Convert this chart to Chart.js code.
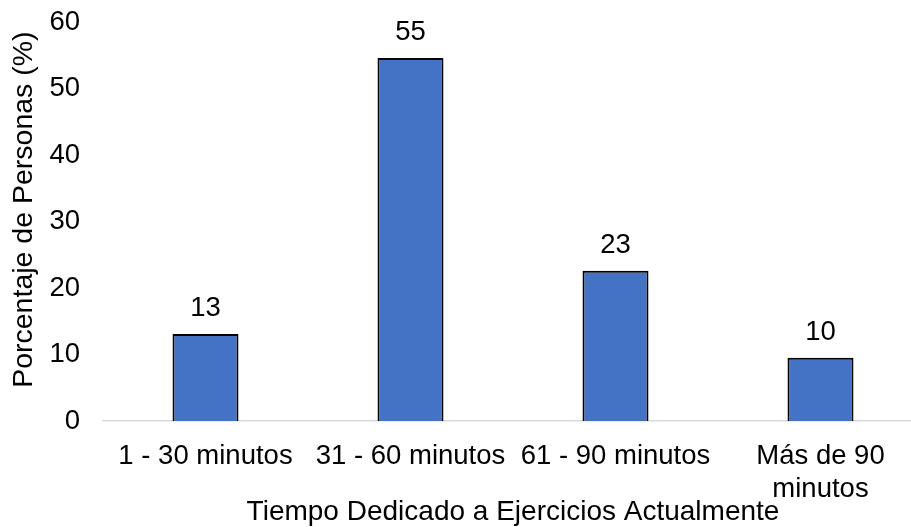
<!DOCTYPE html>
<html>
<head>
<meta charset="utf-8">
<script src="https://cdn.jsdelivr.net/npm/chart.js@4"></script>
<style>
html,body{margin:0;padding:0;overflow:hidden;background:#fff;}
#wrap{width:923px;height:527px;position:relative;}
</style>
</head>
<body>
<div id="wrap"><canvas id="c"></canvas></div>
<script>
const categories = ['1 - 30 minutos', '31 - 60 minutos', '61 - 90 minutos', ['Más de 90', 'minutos']];
const values = [13.1, 54.6, 22.6, 9.5];
const yTicks = [0, 10, 20, 30, 40, 50, 60];
const xTitle = 'Tiempo Dedicado a Ejercicios Actualmente';
const yTitle = 'Porcentaje de Personas (%)';

const FONT = '"Liberation Sans", Arial, sans-serif';
const FS = 27.5;

const labelPlugin = {
  id: 'barLabels',
  afterDatasetsDraw(chart) {
    const ctx = chart.ctx;
    const meta = chart.getDatasetMeta(0);
    ctx.save();
    ctx.font = FS + 'px ' + FONT;
    ctx.fillStyle = '#000';
    ctx.textAlign = 'center';
    ctx.textBaseline = 'alphabetic';
    meta.data.forEach((bar, i) => {
      ctx.fillText(Math.round(values[i]).toString(), bar.x, bar.y - 18);
    });
    ctx.restore();
  }
};

new Chart(document.getElementById('c'), {
  type: 'bar',
  data: {
    labels: categories,
    datasets: [{
      data: values,
      backgroundColor: '#4472C4',
      borderColor: '#000',
      borderWidth: 2,
      barPercentage: 0.322,
      categoryPercentage: 1.0
    }]
  },
  options: {
    responsive: true,
    maintainAspectRatio: false,
    animation: false,
    layout: { padding: { top: 22, right: 0, bottom: 0, left: 0 } },
    plugins: { legend: { display: false }, tooltip: { enabled: false } },
    scales: {
      x: {
        afterFit(scale) { scale.height = 106; scale.paddingLeft = 0; scale.paddingRight = 0; },
        grid: { display: false, drawTicks: false },
        border: { display: true, color: '#d9d9d9', width: 1.5 },
        ticks: { color: '#000', font: { family: FONT, size: FS, lineHeight: 1.2 }, padding: 19, maxRotation: 0, autoSkip: false },
        title: { display: true, text: xTitle, color: '#000', font: { family: FONT, size: 28, lineHeight: 1.0 }, padding: { top: 0, bottom: 1 } }
      },
      y: {
        min: 0, max: 60,
        afterBuildTicks(scale) { scale.ticks = yTicks.map(v => ({ value: v })); },
        afterFit(scale) { scale.width = 103; scale.paddingTop = 0; scale.paddingBottom = 0; },
        grid: { display: false, drawTicks: false },
        border: { display: false },
        ticks: { color: '#000', font: { family: FONT, size: FS }, padding: 23 },
        title: { display: true, text: '   ' + yTitle, color: '#000', font: { family: FONT, size: 28.5, lineHeight: 1.2 }, padding: { top: 7, bottom: 0 } }
      }
    }
  },
  plugins: [labelPlugin]
});
</script>
</body>
</html>
